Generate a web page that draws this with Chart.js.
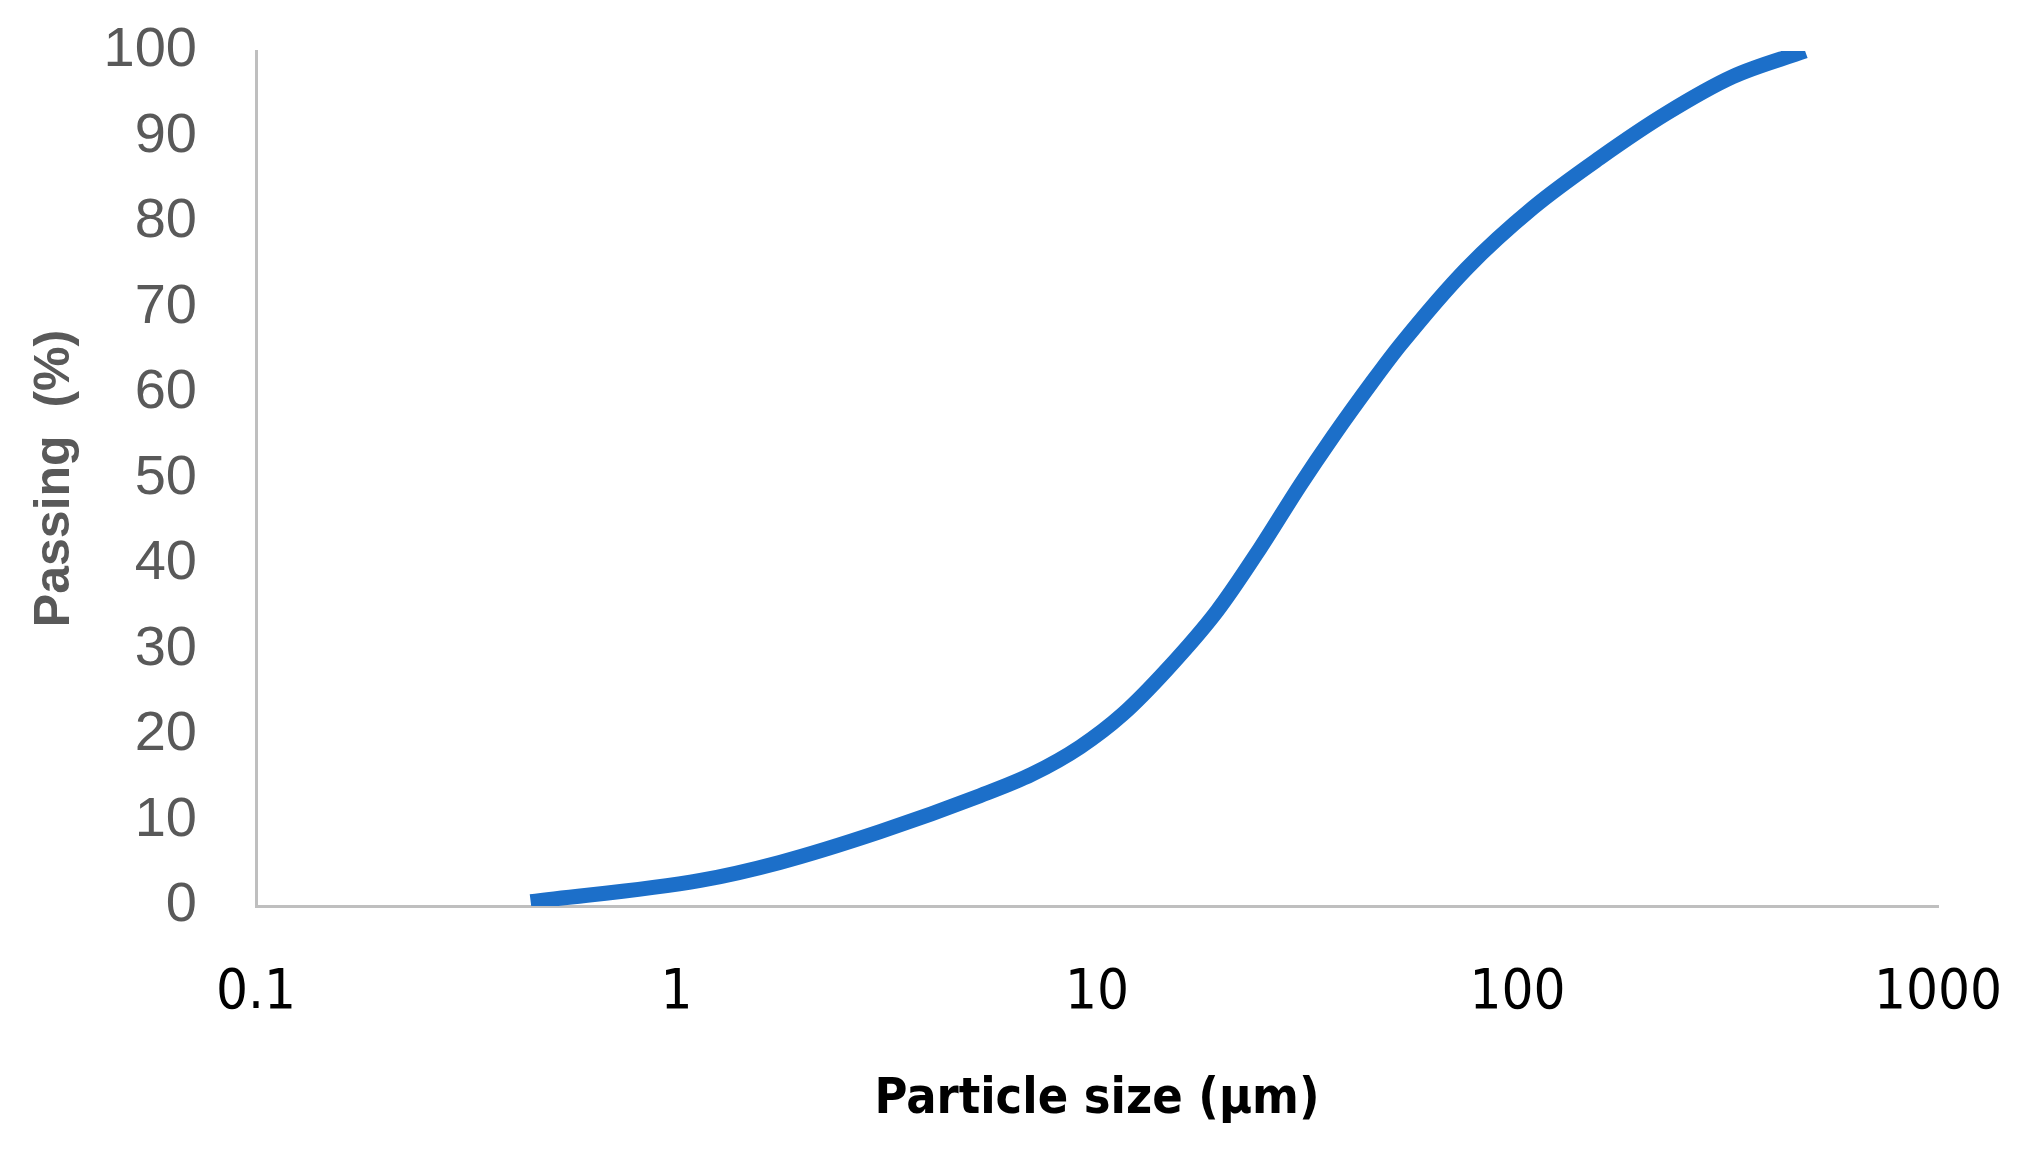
<!DOCTYPE html>
<html lang="en">
<head>
  <meta charset="UTF-8">
  <title>Particle size distribution</title>
  <style>
    body {
      margin: 0;
      background-color: #fff;
    }
    .chart-box {
      width: 2031px;
      height: 1156px;
      position: relative;
    }
  </style>
  <script src="https://cdn.jsdelivr.net/npm/chart.js"></script>
</head>
<body>
  <div class="chart-box">
    <canvas id="psdChart"></canvas>
  </div>

  <script>
    // values (size in µm, cumulative passing in %)
    const sizes   = [0.45, 1.14, 1.76, 3.05, 5.27, 7.0, 9.12, 11.5, 14.7, 19.3, 24.4, 30.4, 36.4, 45.3, 52.6, 75.8, 109, 157, 226, 325, 483];
    const passing = [0.5, 3.0, 5.1, 8.7, 12.9, 15.4, 18.6, 22.4, 27.7, 34.5, 41.8, 49.2, 54.9, 61.4, 65.6, 74.6, 81.7, 87.5, 92.7, 97.0, 100];

    const xTicks = [0.1, 1, 10, 100, 1000];
    const yTicks = [0, 10, 20, 30, 40, 50, 60, 70, 80, 90, 100];

    const points = sizes.map((s, i) => ({ x: s, y: passing[i] }));

    const axisGray = '#bfbfbf';
    const labelGray = '#595959';
    const narrow = '"Liberation Sans Narrow", "DejaVu Sans Condensed", "Liberation Sans", Arial, sans-serif';

    new Chart(document.getElementById('psdChart'), {
      type: 'line',
      data: {
        datasets: [{
          label: 'Passing',
          data: points,
          borderColor: '#1c6fc9',
          borderWidth: 15,
          borderCapStyle: 'butt',
          pointRadius: 0,
          fill: false,
          cubicInterpolationMode: 'monotone'
        }]
      },
      options: {
        responsive: true,
        maintainAspectRatio: false,
        animation: false,
        layout: { padding: { top: 51, right: 93, left: 0, bottom: 0 } },
        plugins: {
          legend: { display: false },
          tooltip: { enabled: false }
        },
        scales: {
          x: {
            type: 'logarithmic',
            min: 0.1,
            max: 1000,
            afterBuildTicks: axis => { axis.ticks = xTicks.map(v => ({ value: v })); },
            afterFit: axis => {
              // fixed box, no extra room for the outer labels
              axis.height = 250;
              axis.paddingLeft = 0;
              axis.paddingRight = 0;
            },
            grid: { display: false, drawTicks: false },
            border: { display: true, color: axisGray, width: 3 },
            ticks: {
              padding: 54,
              color: '#000',
              font: { family: narrow, size: 56 },
              maxRotation: 0,
              callback: v => String(v)
            },
            title: {
              display: true,
              text: 'Particle size (µm)',
              color: '#000',
              font: { family: narrow, size: 50, weight: 'bold' },
              padding: { top: 0, bottom: 26 }
            }
          },
          y: {
            min: 0,
            max: 100,
            afterBuildTicks: axis => { axis.ticks = yTicks.map(v => ({ value: v })); },
            afterFit: axis => {
              axis.width = 256;
              axis.paddingTop = 0;
              axis.paddingBottom = 0;
            },
            grid: { display: false, drawTicks: false },
            border: { display: true, color: axisGray, width: 3 },
            ticks: {
              padding: 59,
              color: labelGray,
              font: { family: '"Liberation Sans", Arial, sans-serif', size: 56 }
            },
            title: {
              display: true,
              text: 'Passing  (%)',
              color: labelGray,
              font: { family: '"Liberation Sans", Arial, sans-serif', size: 50, weight: 'bold' },
              padding: { top: 25, bottom: 0 }
            }
          }
        }
      }
    });
  </script>
</body>
</html>
